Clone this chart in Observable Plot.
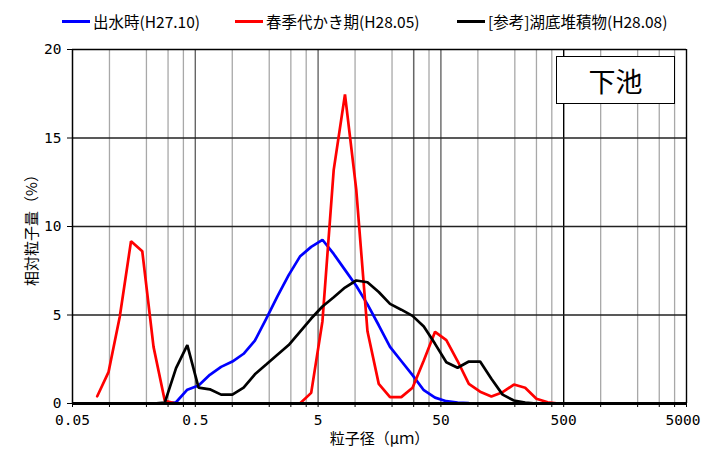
<!DOCTYPE html>
<html>
<head>
<meta charset="utf-8">
<script src="https://cdn.jsdelivr.net/npm/d3@7"></script>
<script src="https://cdn.jsdelivr.net/npm/@observablehq/plot@0.6"></script>
<style>
  html, body { margin: 0; padding: 0; background: #fff; }
  #wrap { position: relative; width: 702px; height: 449px; font-family: "Noto Sans CJK JP", sans-serif; }
  #legend { position: relative; height: 35px; font-size: 15.5px; color: #000; }
  .item { position: absolute; top: 10px; display: flex; align-items: center; white-space: nowrap; line-height: 22px; }
  .swatch { width: 28px; height: 3px; margin-right: 3px; }
  #tag { position: absolute; left: 556px; top: 56px; width: 117px; height: 46px; border: 1.5px solid #000; background: #fff;
         display: flex; align-items: center; justify-content: center; font-size: 27px; }
</style>
</head>
<body>
<div id="wrap">
  <div id="legend"></div>
  <div id="chart"></div>
  <div id="tag"></div>
</div>
<script>
// particle size bins (µm)
const sizes = [0.0795,0.0982,0.1213,0.1498,0.185,0.2285,0.2822,0.3485,0.4305,0.5317,0.6567,0.8111,1.002,1.237,1.528,1.888,2.331,2.879,3.556,4.392,5.425,6.7,8.276,10.22,12.62,15.59,19.26,23.78,29.38,36.28,44.81,55.35,68.37,84.44,104.3,128.8,159.1,196.5,242.7,299.8,370.3,457.3,564.8,697.6,861.6,1064,1314,1623,2005,2476,3058];
// 出水時(H27.10)
const bluePct = [0,0,0,0,0,0,0,0.07,0.78,1.02,1.62,2.07,2.37,2.81,3.55,4.78,6.05,7.25,8.3,8.85,9.25,8.45,7.55,6.65,5.6,4.42,3.2,2.4,1.6,0.75,0.33,0.13,0.05,0.02,0,0,0,0,0,0,0,0,0,0,0,0,0,0,0,0,0];
// 春季代かき期(H28.05)
const redPct = [0.41,1.77,4.9,9.17,8.6,3.2,0.15,0,0,0,0,0,0,0,0,0,0,0,0,0.6,4.65,13.2,17.46,12.1,4.08,1.11,0.36,0.36,0.89,2.43,4.05,3.58,2.4,1.11,0.67,0.4,0.64,1.07,0.89,0.27,0.07,0,0,0,0,0,0,0,0,0,0];
// [参考]湖底堆積物(H28.08)
const blackPct = [0,0,0,0,0,0,0.05,2.0,3.3,0.9,0.8,0.5,0.5,0.9,1.65,2.2,2.75,3.3,4.05,4.8,5.48,6.0,6.55,6.95,6.85,6.3,5.63,5.3,4.95,4.35,3.37,2.33,2.02,2.37,2.37,1.4,0.5,0.17,0.05,0,0,0,0,0,0,0,0,0,0,0,0];

const seriesNames = ["出水時(H27.10)", "春季代かき期(H28.05)", "[参考]湖底堆積物(H28.08)"];
const seriesColors = ["#0000ff", "#ff0000", "#000000"];
const seriesValues = [bluePct, redPct, blackPct];
const legendLeft = [62, 235, 457];

const xTicks = [0.05, 0.5, 5, 50, 500, 5000];
const xTickLabels = ["0.05", "0.5", "5", "50", "500", "5000"];
const xMinor = [0.1,0.2,0.3,0.4,1,2,3,4,10,20,30,40,100,200,300,400,1000,2000,3000,4000];
const xMajorGrid = [0.5, 5, 30, 50];
const yTicks = [0, 5, 10, 15, 20];
const xLabel = "粒子径（μｍ）";
const yLabel = "相対粒子量（%）";
const panelTag = "下池";

const rows = [];
seriesValues.forEach((vals, s) => vals.forEach((v, i) => rows.push({size: sizes[i], pct: v, series: seriesNames[s]})));
const xTickRows = xTicks.map((v, i) => ({v, label: xTickLabels[i]}));
const lastTick = xTickRows.length - 1;

// legend
const legend = document.getElementById("legend");
seriesNames.forEach((n, i) => {
  const it = document.createElement("div"); it.className = "item"; it.style.left = legendLeft[i] + "px";
  const sw = document.createElement("div"); sw.className = "swatch"; sw.style.background = seriesColors[i];
  const tx = document.createElement("span"); tx.textContent = n;
  it.append(sw, tx); legend.append(it);
});
document.getElementById("tag").textContent = panelTag;

const FONT = '"Noto Sans CJK JP", sans-serif';
const MONO = '"DejaVu Sans Mono", monospace';
const chart = Plot.plot({
  width: 702, height: 414,
  marginTop: 14, marginBottom: 46, marginLeft: 72, marginRight: 16,
  style: {fontFamily: FONT, fontSize: "15px", color: "#000", background: "#fff", overflow: "visible"},
  x: {type: "log", domain: [0.05, 5000]},
  y: {domain: [0, 20]},
  color: {domain: seriesNames, range: seriesColors},
  marks: [
    Plot.ruleX(xMinor, {stroke: "#a8a8a8", strokeWidth: 1.3}),
    Plot.ruleX(xMajorGrid, {stroke: "#666", strokeWidth: 1.4}),
    Plot.ruleX([500], {stroke: "#000", strokeWidth: 1.4}),
    Plot.ruleY([5, 10, 15], {stroke: "#222", strokeWidth: 1.3}),
    Plot.ruleY([20], {stroke: "#000", strokeWidth: 1.6}),
    Plot.ruleX([5000], {stroke: "#000", strokeWidth: 1.4}),
    Plot.line(rows, {x: "size", y: "pct", z: "series", stroke: "series", strokeWidth: 2.7, strokeLinejoin: "miter"}),
    Plot.ruleY([0], {stroke: "#000", strokeWidth: 3}),
    Plot.ruleX([0.05], {stroke: "#000", strokeWidth: 1.5}),
    Plot.axisX(xMinor.concat(xTicks), {tickSize: 4, text: null, label: xLabel, labelAnchor: "center", labelArrow: "none", labelOffset: 40}),
    Plot.text(xTickRows, {filter: (d, i) => i !== lastTick, x: "v", text: "label", frameAnchor: "bottom", dy: 21, fontSize: 14.5, fontFamily: MONO, fill: "#000"}),
    Plot.text(xTickRows, {filter: (d, i) => i === lastTick, x: "v", text: "label", frameAnchor: "bottom", dy: 21, dx: 14, textAnchor: "end", fontSize: 14.5, fontFamily: MONO, fill: "#000"}),
    Plot.axisY(yTicks, {tickSize: 5, tickPadding: 6, label: null, fontSize: 14.5, fontFamily: MONO}),
    Plot.axisY(yTicks, {tickSize: 0, text: null, label: yLabel, labelAnchor: "center", labelArrow: "none", labelOffset: 46})
  ]
});
document.getElementById("chart").append(chart);
</script>
</body>
</html>
